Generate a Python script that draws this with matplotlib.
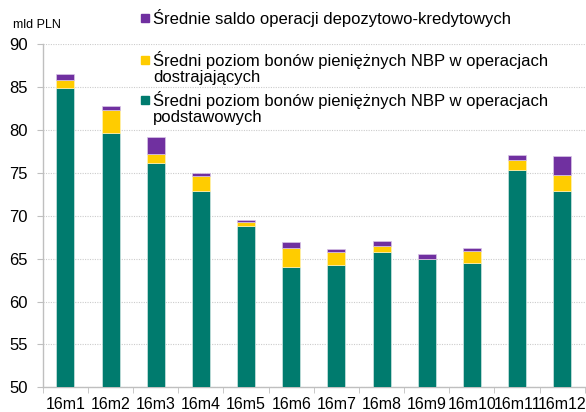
import numpy as np
import matplotlib.pyplot as plt
from matplotlib.patches import Rectangle

plt.rcParams['font.family'] = ['Liberation Sans', 'DejaVu Sans']

# data (mld PLN)
months = ['16m1', '16m2', '16m3', '16m4', '16m5', '16m6',
          '16m7', '16m8', '16m9', '16m10', '16m11', '16m12']
bony_podst = [84.9, 79.7, 76.2, 72.9, 68.8, 64.0, 64.3, 65.75, 64.95, 64.45, 75.4, 72.85]
bony_dostr = [0.9, 2.6, 1.0, 1.7, 0.5, 2.25, 1.45, 0.7, 0.0, 1.4, 1.1, 1.95]
saldo_dep = [0.8, 0.5, 2.0, 0.4, 0.2, 0.65, 0.35, 0.65, 0.55, 0.45, 0.6, 2.2]

labels = ['Średnie saldo operacji depozytowo-kredytowych',
          'Średni poziom bonów pieniężnych NBP w operacjach\ndostrajających',
          'Średni poziom bonów pieniężnych NBP w operacjach\npodstawowych']

teal = '#007B6E'
yellow = '#FFCC00'
purple = '#7030A0'
grey = '#BFBFBF'

fig = plt.figure(figsize=(5.86, 4.12), dpi=100)
ax = fig.add_axes([0.073, 0.060, 0.925, 0.832])

x = np.arange(len(months))
podst = np.array(bony_podst)
dostr = np.array(bony_dostr)
saldo = np.array(saldo_dep)

w = 0.4
ax.bar(x, podst - 50, w, bottom=50, color=teal, edgecolor='#cfe5e2', linewidth=0.5, zorder=3)
ax.bar(x, dostr, w, bottom=podst, color=yellow, edgecolor='#fff2b3', linewidth=0.5, zorder=3)
ax.bar(x, saldo, w, bottom=podst + dostr, color=purple, edgecolor='#d9c6e6', linewidth=0.5, zorder=3)

ax.set_ylim(50, 90)
ax.set_xlim(-0.5, len(months) - 0.5)
ax.set_yticks(np.arange(50, 91, 5))
ax.set_xticks(x)
ax.set_xticklabels(months)
ax.set_xticks(np.arange(-0.5, len(months), 1), minor=True)

ax.grid(axis='y', color='#CCCCCC', linestyle=(0, (1, 1.2)), linewidth=0.8, zorder=0)
for s in ['top', 'right']:
    ax.spines[s].set_visible(False)
for s in ['left', 'bottom']:
    ax.spines[s].set_color(grey)
    ax.spines[s].set_linewidth(1.0)

ax.tick_params(axis='y', length=4, color=grey, labelsize=12, pad=7)
ax.tick_params(axis='x', which='major', length=0, labelsize=11.5, pad=7)
ax.tick_params(axis='x', which='minor', length=4, color=grey)

fig.text(13 / 586, 1 - 25 / 412, 'mld PLN', fontsize=9, va='center', ha='left')

# legend drawn by hand to follow the reference spacing
leg = [(purple, 18, labels[0]), (yellow, 60, labels[1]), (teal, 100, labels[2])]
for col, yc, lab in leg:
    fig.add_artist(Rectangle((141 / 586, 1 - (yc + 4) / 412), 8 / 586, 8 / 412,
                             transform=fig.transFigure, color=col))
    fig.text(153 / 586, 1 - (yc - 9) / 412, lab, fontsize=12, va='top', ha='left',
             linespacing=1.05)

fig.savefig('out.png', dpi=100)
